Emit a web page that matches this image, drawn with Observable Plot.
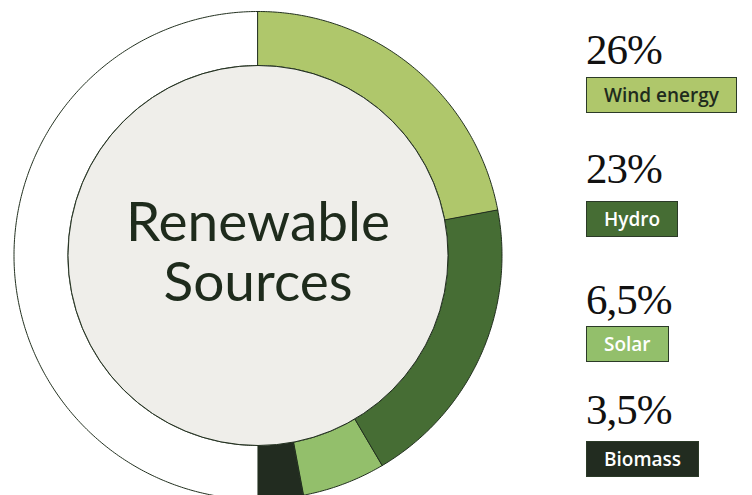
<!DOCTYPE html>
<html>
<head>
<meta charset="utf-8">
<script src="https://cdn.jsdelivr.net/npm/d3@7"></script>
<script src="https://cdn.jsdelivr.net/npm/@observablehq/plot@0.6"></script>
<style>
  html, body { margin: 0; padding: 0; background: #ffffff; }
  #wrap { position: relative; width: 752px; height: 495px; overflow: hidden; }
  #chart { position: absolute; left: 0; top: 0; }
  .pct { position: absolute; left: 586px; font-family: "Liberation Serif", serif; font-size: 43px; line-height: 1; color: #111; letter-spacing: -1px; }
  .lab { position: absolute; left: 586px; height: 34px; line-height: 34px; box-sizing: content-box; padding: 0 17px; border: 1px solid #2b3a27;
         font-family: "Open Sans", sans-serif; font-weight: 600; font-size: 19px; white-space: nowrap; }
</style>
</head>
<body>
<div id="wrap">
  <div id="chart"></div>
</div>
<script>
// ---- data ----
const categories = ["Wind energy", "Hydro", "Solar", "Biomass"];
const values = [26, 23, 6.5, 3.5];
const percentLabels = ["26%", "23%", "6,5%", "3,5%"];
const centerTitle = ["Renewable", "Sources"];

// ---- styling ----
const palette = ["#afc76b", "#466d34", "#93bf6b", "#222c20"];
const textColors = ["#1f2b1d", "#ffffff", "#ffffff", "#ffffff"];
const W = 752, H = 495;
const cx = 257.5, cy = 255;
const rOuter = 244, rInner = 190;

// build ring segments: used values span the right half (0..π), remainder is the empty left half
const pie = d3.pie().sort(null).startAngle(0).endAngle(Math.PI)(values);
function arcPoints(name, a0, a1) {
  const n = Math.max(8, Math.ceil((a1 - a0) / 0.01));
  const pts = [];
  for (let i = 0; i <= n; i++) { const a = a0 + (a1 - a0) * i / n; pts.push({name, x: rOuter * Math.sin(a), y: -rOuter * Math.cos(a)}); }
  for (let i = n; i >= 0; i--) { const a = a0 + (a1 - a0) * i / n; pts.push({name, x: rInner * Math.sin(a), y: -rInner * Math.cos(a)}); }
  return pts;
}
const ring = [];
ring.push(...arcPoints("rest", Math.PI, 2 * Math.PI));
pie.forEach((p, i) => ring.push(...arcPoints(categories[i], p.startAngle, p.endAngle)));

const plot = Plot.plot({
  width: W, height: H,
  margin: 0,
  x: {domain: [-cx, W - cx], range: [0, W], axis: null},
  y: {domain: [-cy, H - cy], range: [0, H], axis: null},
  color: {domain: ["rest", ...categories], range: ["#ffffff", ...palette]},
  marks: [
    Plot.line(ring, {x: "x", y: "y", z: "name", fill: "name", stroke: "#22301f", strokeWidth: 1, curve: "linear-closed"}),
    Plot.dot([{x: 0, y: 0}], {x: "x", y: "y", r: rInner, fill: "#efeeea", stroke: "#22301f", strokeWidth: 1}),
    Plot.text([centerTitle.join("\n")], {x: () => 0, y: () => 0, text: d => d, lineHeight: 1.1, fontSize: 55, fill: "#1e2b1c", fontFamily: "Lato, sans-serif", dy: -4})
  ]
});
document.getElementById("chart").appendChild(plot);

// legend
const wrap = document.getElementById("wrap");
const pctTops = [28, 147, 278, 388];
const labTops = [77, 201, 326, 441];
categories.forEach((c, i) => {
  const p = document.createElement("div");
  p.className = "pct"; p.textContent = percentLabels[i]; p.style.top = pctTops[i] + "px";
  wrap.appendChild(p);
  const l = document.createElement("div");
  l.className = "lab"; l.textContent = c; l.style.top = labTops[i] + "px";
  l.style.background = palette[i]; l.style.color = textColors[i];
  wrap.appendChild(l);
});
</script>
</body>
</html>
